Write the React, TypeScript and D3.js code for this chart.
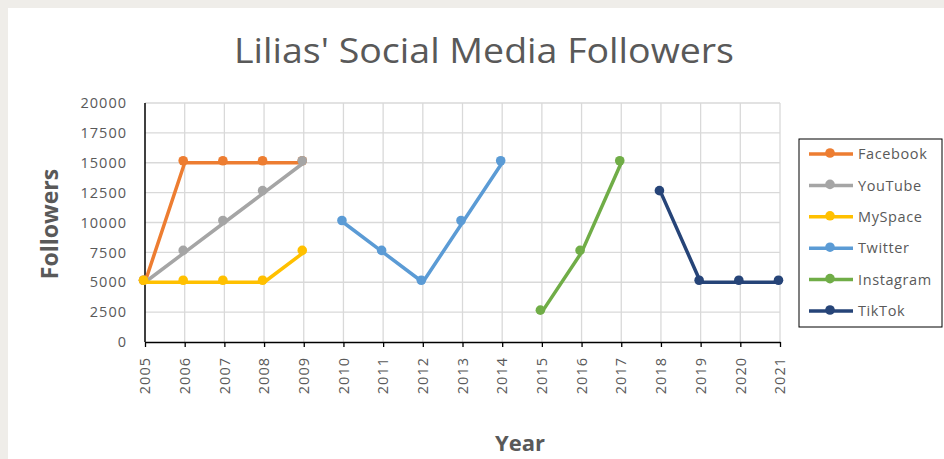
import React, { useEffect, useRef } from 'react';
import * as d3 from 'd3';

// Data
const years = [2005, 2006, 2007, 2008, 2009, 2010, 2011, 2012, 2013, 2014, 2015, 2016, 2017, 2018, 2019, 2020, 2021];
const yTicks = [0, 2500, 5000, 7500, 10000, 12500, 15000, 17500, 20000];

const facebook = [5000, 15000, 15000, 15000, 15000, null, null, null, null, null, null, null, null, null, null, null, null];
const youtube = [5000, 7500, 10000, 12500, 15000, null, null, null, null, null, null, null, null, null, null, null, null];
const myspace = [5000, 5000, 5000, 5000, 7500, null, null, null, null, null, null, null, null, null, null, null, null];
const twitter = [null, null, null, null, null, 10000, 7500, 5000, 10000, 15000, null, null, null, null, null, null, null];
const instagram = [null, null, null, null, null, null, null, null, null, null, 2500, 7500, 15000, null, null, null, null];
const tiktok = [null, null, null, null, null, null, null, null, null, null, null, null, null, 12500, 5000, 5000, 5000];

const seriesNames = ['Facebook', 'YouTube', 'MySpace', 'Twitter', 'Instagram', 'TikTok'];
const seriesValues = [facebook, youtube, myspace, twitter, instagram, tiktok];
const seriesColors = ['#ED7D31', '#A5A5A5', '#FFC000', '#5B9BD5', '#70AD47', '#264478'];

const W = 944;
const H = 459;
const TEXT = '#595959';
const FONT = '"Open Sans", "Noto Sans", sans-serif';

const App: React.FC = () => {
  const svgRef = useRef<SVGSVGElement>(null);

  useEffect(() => {
    if (!svgRef.current) return;
    const svg = d3.select(svgRef.current);
    svg.selectAll('*').remove();

    svg.append('rect').attr('width', W).attr('height', H).attr('fill', '#efede9');
    svg.append('rect').attr('x', 8).attr('y', 8).attr('width', W).attr('height', H).attr('fill', '#ffffff');

    const margin = { top: 103, right: 164, bottom: 117, left: 145 };
    const x = d3
      .scalePoint<number>()
      .domain(years)
      .range([margin.left, W - margin.right]);
    const y = d3
      .scaleLinear()
      .domain([0, 20000])
      .range([H - margin.bottom, margin.top]);

    // title
    svg
      .append('text')
      .attr('x', 484)
      .attr('y', 63)
      .attr('text-anchor', 'middle')
      .attr('font-family', FONT)
      .attr('font-size', 35)
      .attr('fill', TEXT)
      .attr('textLength', 500)
      .attr('lengthAdjust', 'spacingAndGlyphs')
      .text("Lilias' Social Media Followers");

    // gridlines
    const grid = svg.append('g').attr('stroke', '#d9d9d9').attr('stroke-width', 1.3);
    grid
      .selectAll('line.h')
      .data(yTicks.filter((d) => d > 0))
      .join('line')
      .attr('x1', margin.left)
      .attr('x2', W - margin.right)
      .attr('y1', (d) => y(d))
      .attr('y2', (d) => y(d));
    grid
      .selectAll('line.v')
      .data(years.slice(1))
      .join('line')
      .attr('x1', (d) => x(d) as number)
      .attr('x2', (d) => x(d) as number)
      .attr('y1', y(20000))
      .attr('y2', y(0));

    // axes
    const xAxis = svg
      .append('g')
      .attr('transform', `translate(0,${y(0)})`)
      .call(d3.axisBottom(x).tickSize(5).tickSizeOuter(0).tickFormat(() => ''));
    xAxis.select('.domain').attr('stroke', '#000').attr('stroke-width', 1.5);
    xAxis.selectAll('.tick line').attr('stroke', '#000').attr('stroke-width', 1.3);

    svg
      .append('line')
      .attr('x1', margin.left)
      .attr('x2', margin.left)
      .attr('y1', y(20000))
      .attr('y2', y(0))
      .attr('stroke', '#000')
      .attr('stroke-width', 1.5);

    svg
      .append('g')
      .selectAll('text')
      .data(yTicks)
      .join('text')
      .attr('x', 127)
      .attr('y', (d) => y(d))
      .attr('dy', '0.36em')
      .attr('text-anchor', 'end')
      .attr('font-family', FONT)
      .attr('font-size', 14.5)
      .attr('letter-spacing', 1)
      .attr('fill', TEXT)
      .text((d) => String(d));

    svg
      .append('g')
      .selectAll('text')
      .data(years)
      .join('text')
      .attr('transform', (d) => `translate(${x(d)},${y(0) + 15})rotate(-90)`)
      .attr('dy', '0.36em')
      .attr('text-anchor', 'end')
      .attr('font-family', FONT)
      .attr('font-size', 14.5)
      .attr('letter-spacing', 1)
      .attr('fill', TEXT)
      .text((d) => String(d));

    svg
      .append('text')
      .attr('x', 520)
      .attr('y', 451)
      .attr('text-anchor', 'middle')
      .attr('font-family', FONT)
      .attr('font-weight', 700)
      .attr('font-size', 22)
      .attr('fill', TEXT)
      .text('Year');

    svg
      .append('text')
      .attr('transform', 'translate(58,224)rotate(-90)')
      .attr('text-anchor', 'middle')
      .attr('font-family', FONT)
      .attr('font-weight', 700)
      .attr('font-size', 23)
      .attr('fill', TEXT)
      .text('Followers');

    // series
    const line = d3
      .line<number | null>()
      .defined((d) => d !== null)
      .x((_, i) => x(years[i]) as number)
      .y((d) => y(d as number));

    seriesValues.forEach((vals, si) => {
      const g = svg.append('g');
      g.append('path')
        .datum(vals)
        .attr('d', line)
        .attr('fill', 'none')
        .attr('stroke', seriesColors[si])
        .attr('stroke-width', 3.5)
        .attr('stroke-linejoin', 'round');
      g.selectAll('circle')
        .data(vals.map((v, i) => ({ v, year: years[i] })).filter((d) => d.v !== null))
        .join('circle')
        .attr('cx', (d) => (x(d.year) as number) - 1.5)
        .attr('cy', (d) => y(d.v as number) - 2)
        .attr('r', 4.8)
        .attr('fill', seriesColors[si]);
    });

    // legend
    const legend = svg.append('g');
    legend
      .append('rect')
      .attr('x', 799)
      .attr('y', 139)
      .attr('width', 143)
      .attr('height', 188)
      .attr('fill', '#fff')
      .attr('stroke', '#000')
      .attr('stroke-width', 1);
    const items = legend
      .selectAll('g')
      .data(seriesNames)
      .join('g')
      .attr('transform', (_, i) => `translate(0,${154 + i * 31.4})`);
    items
      .append('line')
      .attr('x1', 809)
      .attr('x2', 853)
      .attr('stroke', (_, i) => seriesColors[i])
      .attr('stroke-width', 3.5);
    items
      .append('circle')
      .attr('cx', 830)
      .attr('cy', -1)
      .attr('r', 4.8)
      .attr('fill', (_, i) => seriesColors[i]);
    items
      .append('text')
      .attr('x', 858)
      .attr('dy', '0.36em')
      .attr('font-family', FONT)
      .attr('font-size', 14.5)
      .attr('letter-spacing', 0.6)
      .attr('fill', TEXT)
      .text((d) => d);
  }, []);

  return (
    <div style={{ position: 'fixed', left: 0, top: 0, width: W, height: H }}>
      <svg ref={svgRef} width={W} height={H} style={{ display: 'block' }} />
    </div>
  );
};

export default App;
